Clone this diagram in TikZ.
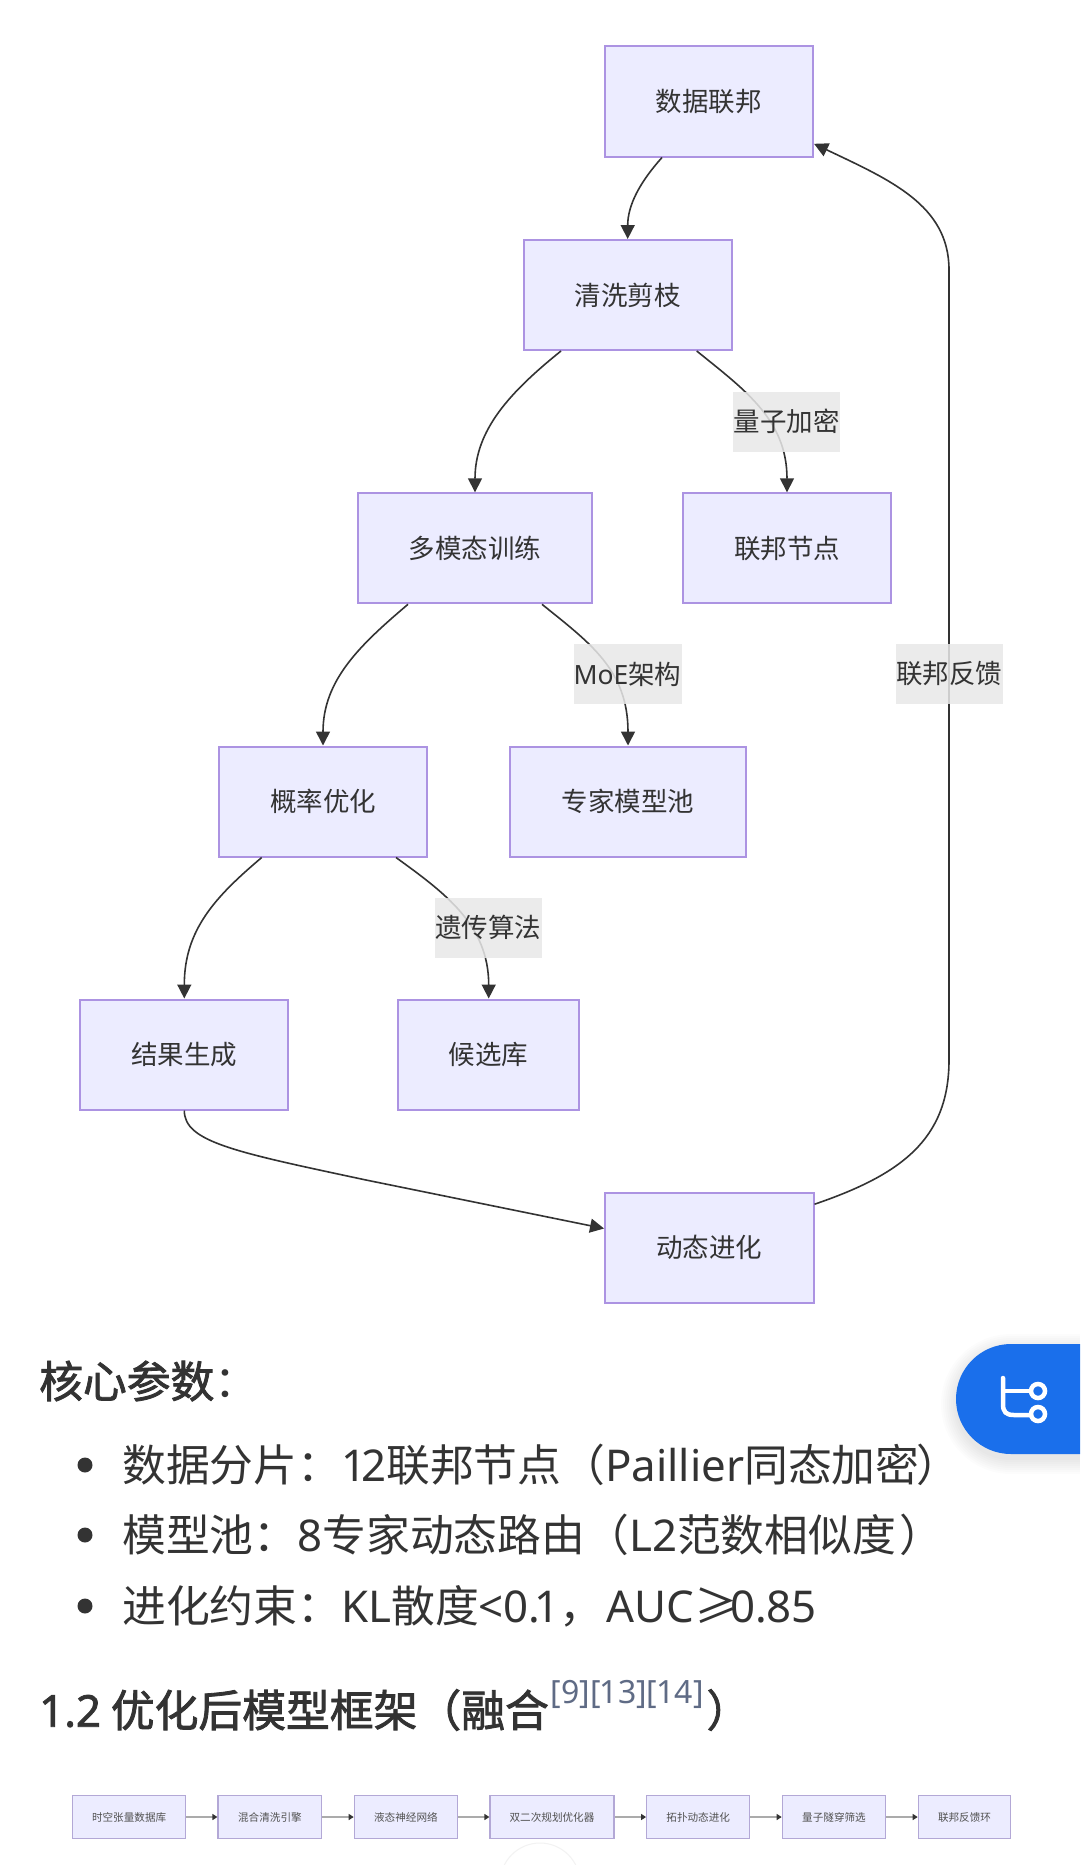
\documentclass[tikz,border=0pt]{standalone}
\usepackage{fontspec}
\setmainfont{Noto Sans CJK SC}
\newfontfamily\lat{Noto Sans}
\usetikzlibrary{arrows.meta}
\definecolor{nodefill}{HTML}{ECECFF}
\definecolor{nodeline}{HTML}{AC93E2}
\definecolor{ink}{HTML}{333333}
\definecolor{lblfill}{HTML}{E8E8E8}
\definecolor{btn}{HTML}{1A6FEB}
\definecolor{citeink}{HTML}{5F6B85}
\definecolor{miniline}{HTML}{B3A8D6}
\newcommand{\fatten}{\special{pdf:code 0.2 0.2 0.2 RG 2 Tr 0.8 w}}
\newcommand{\unfatten}{\special{pdf:code 0 Tr 0 w}}
\tikzset{
  flowbox/.style={draw=nodeline,fill=nodefill,line width=2pt,text=ink,inner sep=0pt,
    minimum height=110pt,font=\fontsize{26.5}{30}\selectfont},
  edgetag/.style={fill=lblfill,fill opacity=.85,text opacity=1,text=ink,inner sep=0pt,
    minimum height=60pt,minimum width=107pt,font=\fontsize{26.5}{30}\selectfont},
  flow/.style={draw=ink,line width=1.6pt,-{Triangle[length=14pt,width=14pt]}},
  minibox/.style={draw=miniline,fill=nodefill,line width=1.2pt,text=ink!85,inner sep=0pt,
    minimum height=43.5pt,font=\fontsize{10.6}{14}\selectfont},
  miniflow/.style={draw=black!33,line width=1.6pt,-{Triangle[length=5pt,width=6pt,color=ink]}},
  bodytext/.style={anchor=west,inner sep=0pt,text=ink,font=\fontsize{43.8}{50}\selectfont},
  headtext/.style={anchor=west,inner sep=0pt,text=ink,font=\fontsize{43.8}{50}\selectfont},
  dot/.style={circle,fill=ink,inner sep=0pt,minimum size=15pt},
}
\begin{document}
\begin{tikzpicture}[x=1pt,y=-1pt]
\useasboundingbox (0,0) rectangle (1080,1865);
\fill[white] (0,0) rectangle (1080,1865);
% main flow nodes
\node[flowbox,minimum width=208.5pt] (a) at (708.8,101.5) {数据联邦};
\node[flowbox,minimum width=208pt] (b) at (627.7,295) {清洗剪枝};
\node[flowbox,minimum width=234pt] (c) at (475,548.3) {多模态训练};
\node[flowbox,minimum width=208pt] (d) at (787,548.3) {联邦节点};
\node[flowbox,minimum width=208pt] (e) at (323,801.5) {概率优化};
\node[flowbox,minimum width=236pt] (f) at (628,801.5) {专家模型池};
\node[flowbox,minimum width=208pt] (g) at (184.3,1054.5) {结果生成};
\node[flowbox,minimum width=181pt] (h) at (488.7,1054.5) {候选库};
\node[flowbox,minimum width=208.5pt] (i) at (709.3,1247.5) {动态进化};
% connectors
\draw[flow] ([xshift=-46.8pt]a.south) .. controls (640,182) and (627.7,205) .. (b.north);
\draw[flow] ([xshift=-66.7pt]b.south) .. controls (510,392) and (475,430) .. (c.north);
\draw[flow] ([xshift=69pt]b.south) .. controls (745,390) and (787,420) .. (d.north);
\draw[flow] ([xshift=-67pt]c.south) .. controls (360,645) and (323,680) .. (e.north);
\draw[flow] ([xshift=67pt]c.south) .. controls (590,643) and (628,670) .. (f.north);
\draw[flow] ([xshift=-61.3pt]e.south) .. controls (215,897) and (184.3,930) .. (g.north);
\draw[flow] ([xshift=73pt]e.south) .. controls (445,893) and (488.7,925) .. (h.north);
\draw[flow] (g.south) .. controls (184.3,1142) and (235,1152) .. (366,1180) -- ([yshift=19pt]i.west);
\draw[flow] ([yshift=-12.7pt]i.north east) .. controls (900,1175) and (949,1140) .. (949,1060)
  -- (949,270) .. controls (949,205) and (890,180) .. ([yshift=13.7pt]a.south east);
% edge labels
\node[edgetag] (t1) at (786.5,421.5) {量子加密};
\node[edgetag,minimum width=108pt] (t2) at (627.5,674) {{\lat MoE}架构};
\node[edgetag] (t3) at (488,927.5) {遗传算法};
\node[edgetag] (t4) at (949,674) {联邦反馈};
% text
\node[headtext] (h1) at (39,1381) {\fatten 核心参数\unfatten ：};
\node[dot] (b1) at (85,1465) {};
\node[dot] (b2) at (85,1535) {};
\node[dot] (b3) at (85,1606) {};
\node[bodytext] (l1) at (122,1465) {数据分片：{\lat 1\kern-5pt 2}联邦节点（{\lat Paillier}同态加密\kern-3pt ）};
\node[bodytext] (l2) at (122,1535) {模型池：{\lat 8}专家动态路由（{\lat L2}范数相似度\kern3pt ）};
\node[bodytext] (l3) at (122,1606) {进化约束：{\lat KL}散度{\lat <0.\kern-6pt 1}，\kern3pt{\lat AUC}≥\kern-8pt{\lat 0.85}};
\node[headtext] (h2) at (39,1710) {\fatten{\lat 1.2} 优化后模型框架（融合\unfatten\kern2pt\smash{\raisebox{23.5pt}{\fontsize{32}{34}\selectfont\lat\textcolor{citeink}{[9][\kern-1pt 13][\kern-1pt 14]}}}\kern3pt\fatten ）\unfatten};
% lower flow
\node[minibox,minimum width=113.2pt] (m1) at (129.1,1817) {时空张量数据库};
\node[minibox,minimum width=103.8pt] (m2) at (269.9,1817) {混合清洗引擎};
\node[minibox,minimum width=103.2pt] (m3) at (405.9,1817) {液态神经网络};
\node[minibox,minimum width=124pt] (m4) at (552,1817) {双二次规划优化器};
\node[minibox,minimum width=103pt] (m5) at (698.2,1817) {拓扑动态进化};
\node[minibox,minimum width=103.4pt] (m6) at (834,1817) {量子隧穿筛选};
\node[minibox,minimum width=92.4pt] (m7) at (964.5,1817) {联邦反馈环};
\draw[miniflow] (m1) -- (m2);
\draw[miniflow] (m2) -- (m3);
\draw[miniflow] (m3) -- (m4);
\draw[miniflow] (m4) -- (m5);
\draw[miniflow] (m5) -- (m6);
\draw[miniflow] (m6) -- (m7);
% faint circle at the bottom edge
\draw[black!5,line width=1pt] (540,1883) circle[radius=40pt];
% floating button
\foreach \d in {1,3,...,15}{
  \fill[black,opacity=.012] (1080,1344+5-\d) -- (1011,1344+5-\d)
    arc[start angle=90,end angle=270,radius={55pt+\d pt}] -- (1080,1454+5+\d) -- cycle;
}
\fill[btn] (1080,1344) -- (1011,1344) arc[start angle=90,end angle=270,radius=55pt] -- (1080,1454) -- cycle;
\draw[white,line width=4.5pt,line cap=round] (1003,1378) -- (1003,1404)
  .. controls (1003,1412) and (1006,1415) .. (1014,1415) -- (1031,1415);
\draw[white,line width=4.5pt] (1003,1391) -- (1031,1391);
\draw[white,line width=4.5pt] (1038,1391) circle[radius=7pt];
\draw[white,line width=4.5pt] (1038,1414) circle[radius=7pt];
\end{tikzpicture}
\end{document}
